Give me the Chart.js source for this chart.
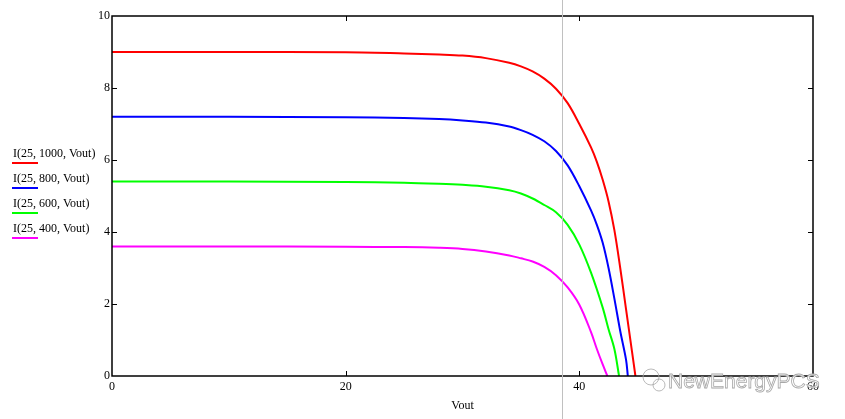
<!DOCTYPE html>
<html>
<head>
<meta charset="utf-8">
<script src="https://cdn.jsdelivr.net/npm/chart.js@4"></script>
<style>
  html, body { margin: 0; padding: 0; background: #fff; }
  #wrap { position: relative; width: 845px; height: 419px; }
</style>
</head>
<body>
<div id="wrap"><canvas id="grafico" width="845" height="419"></canvas></div>
<script>
// values
const labels = ["I(25, 1000, Vout)", "I(25, 800, Vout)", "I(25, 600, Vout)", "I(25, 400, Vout)"]
const cores = ["#ff0000", "#0000ff", "#00ff00", "#ff00ff"]

const v1000 = [0, 10, 20, 25, 28, 30, 32, 34, 35, 36, 37, 38, 39, 40, 41, 41.5, 42, 42.5, 43, 43.5, 44, 44.5, 44.8]
const i1000 = [9.0, 9.0, 8.99, 8.96, 8.93, 8.9, 8.83, 8.7, 8.6, 8.46, 8.26, 7.98, 7.58, 7.0, 6.35, 5.95, 5.45, 4.85, 4.05, 3.0, 1.85, 0.7, 0]

const v800 = [0, 10, 20, 25, 28, 30, 32, 34, 35, 36, 37, 38, 39, 40, 41, 41.5, 42, 42.5, 43, 43.5, 44, 44.15]
const i800 = [7.2, 7.2, 7.19, 7.17, 7.14, 7.1, 7.04, 6.93, 6.83, 6.7, 6.52, 6.25, 5.85, 5.27, 4.6, 4.2, 3.7, 3.0, 2.15, 1.25, 0.45, 0]

const v600 = [0, 10, 20, 25, 28, 30, 32, 34, 35, 36, 37, 38, 39, 40, 41, 42, 42.5, 43, 43.4]
const i600 = [5.4, 5.4, 5.39, 5.37, 5.34, 5.31, 5.26, 5.16, 5.07, 4.93, 4.75, 4.55, 4.2, 3.65, 2.87, 1.9, 1.3, 0.75, 0]

const v400 = [0, 10, 20, 25, 28, 30, 32, 34, 35, 36, 37, 38, 39, 40, 41, 41.5, 42, 42.4]
const i400 = [3.6, 3.6, 3.59, 3.58, 3.56, 3.53, 3.46, 3.35, 3.27, 3.18, 3.03, 2.8, 2.46, 1.98, 1.22, 0.75, 0.32, 0]

const xTicks = [0, 20, 40, 60]
const yTicks = [0, 2, 4, 6, 8, 10]
const cursorV = 38.5

function pontos (vs, is) {
    return vs.map((v, k) => ({ x: v, y: is[k] }))
}

const serie = [[v1000, i1000], [v800, i800], [v600, i600], [v400, i400]]

// box, inner ticks, cursor line, legend and watermark
const extras = {
    id: "extras",
    afterDraw (chart) {
        const ctx = chart.ctx
        const a = chart.chartArea
        const sx = chart.scales.x
        const sy = chart.scales.y
        ctx.save()
        ctx.strokeStyle = "#000"
        ctx.lineWidth = 1.5
        ctx.strokeRect(a.left, a.top, a.right - a.left, a.bottom - a.top)
        ctx.lineWidth = 1
        ctx.beginPath()
        xTicks.slice(1, -1).forEach((t) => {
            const px = Math.round(sx.getPixelForValue(t)) + 0.5
            ctx.moveTo(px, a.bottom); ctx.lineTo(px, a.bottom - 5)
            ctx.moveTo(px, a.top); ctx.lineTo(px, a.top + 5)
        })
        yTicks.slice(1, -1).forEach((t) => {
            const py = Math.round(sy.getPixelForValue(t)) + 0.5
            ctx.moveTo(a.left, py); ctx.lineTo(a.left + 5, py)
            ctx.moveTo(a.right, py); ctx.lineTo(a.right - 5, py)
        })
        ctx.stroke()

        // gray cursor
        const cx = Math.round(sx.getPixelForValue(cursorV)) + 0.5
        ctx.strokeStyle = "#c0c0c0"
        ctx.beginPath()
        ctx.moveTo(cx, 0); ctx.lineTo(cx, chart.height)
        ctx.stroke()

        // legend on the left
        ctx.font = "12px 'Liberation Serif'"
        ctx.textAlign = "left"
        ctx.textBaseline = "alphabetic"
        labels.forEach((l, k) => {
            const y0 = 157 + k * 25
            ctx.fillStyle = "#000"
            ctx.fillText(l, 13, y0)
            ctx.strokeStyle = cores[k]
            ctx.lineWidth = 2
            ctx.beginPath()
            ctx.moveTo(12, y0 + 6); ctx.lineTo(38, y0 + 6)
            ctx.stroke()
        })

        // watermark
        ctx.font = "21px 'Liberation Sans'"
        ctx.lineWidth = 0.8
        ctx.strokeStyle = "#a8a8a8"
        ctx.fillStyle = "rgba(255,255,255,0.85)"
        ctx.fillText("NewEnergyPCS", 668, 388)
        ctx.strokeText("NewEnergyPCS", 668, 388)
        ctx.beginPath()
        ctx.arc(651, 377, 8, 0, Math.PI * 2)
        ctx.moveTo(665, 385)
        ctx.arc(659, 385, 6, 0, Math.PI * 2)
        ctx.stroke()
        ctx.restore()
    }
}

function criarGrafico () {
    const canvas = document.getElementById("grafico")
    new Chart(canvas, {
        type: "line",
        data: {
            datasets: serie.map((s, k) => ({
                label: labels[k],
                data: pontos(s[0], s[1]),
                borderColor: cores[k],
                borderWidth: 2,
                pointRadius: 0,
                fill: false,
                tension: 0.35
            }))
        },
        options: {
            responsive: false,
            animation: false,
            layout: { padding: { left: 0, right: 32, top: 16, bottom: 0 } },
            scales: {
                x: {
                    type: "linear",
                    min: 0,
                    max: 60,
                    grid: { display: false, drawTicks: false },
                    border: { display: false },
                    afterBuildTicks: (s) => { s.ticks = xTicks.map((v) => ({ value: v })) },
                    afterFit: (s) => { s.height = 43 },
                    ticks: { color: "#000", padding: 4, maxRotation: 0, font: { family: "Liberation Serif", size: 12 } },
                    title: { display: true, text: "Vout", color: "#000", padding: { top: 4, bottom: 6 }, font: { family: "Liberation Serif", size: 12 } }
                },
                y: {
                    min: 0,
                    max: 10,
                    grid: { display: false, drawTicks: false },
                    border: { display: false },
                    afterBuildTicks: (s) => { s.ticks = yTicks.map((v) => ({ value: v })) },
                    afterFit: (s) => { s.width = 112 },
                    ticks: { color: "#000", padding: 2, font: { family: "Liberation Serif", size: 12 } }
                }
            },
            plugins: {
                legend: { display: false },
                tooltip: { enabled: false }
            }
        },
        plugins: [extras]
    })
}

criarGrafico()
</script>
</body>
</html>
